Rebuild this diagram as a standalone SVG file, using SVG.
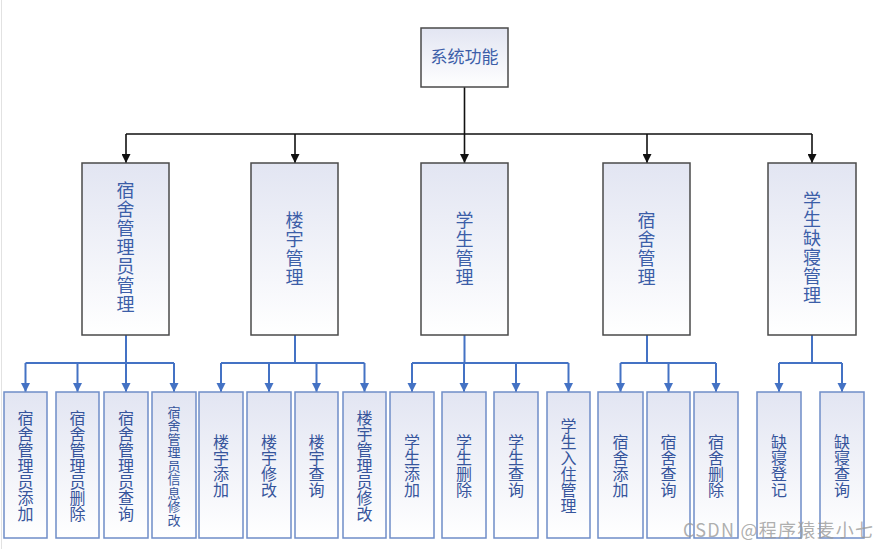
<svg xmlns="http://www.w3.org/2000/svg" width="890" height="549" viewBox="0 0 890 549">
<defs>
<linearGradient id="g" x1="0" y1="0" x2="0" y2="1">
<stop offset="0" stop-color="#e2e5f2"/>
<stop offset="1" stop-color="#ffffff"/>
</linearGradient>
<marker id="ab" viewBox="0 0 10 10" refX="10" refY="5" markerWidth="9" markerHeight="9" markerUnits="userSpaceOnUse" orient="auto">
<path d="M0,0 L10,5 L0,10 z" fill="#111"/>
</marker>
<marker id="au" viewBox="0 0 10 10" refX="10" refY="5" markerWidth="9" markerHeight="10" markerUnits="userSpaceOnUse" orient="auto">
<path d="M0,0 L10,5 L0,10 z" fill="#4472c4"/>
</marker>
<style>
.top{fill:url(#g);stroke:#4a4a4a;stroke-width:1.5}
.l2{fill:url(#g);stroke:#4a4a4a;stroke-width:1.5}
.l3{fill:url(#g);stroke:#6f8dc8;stroke-width:1.5}
.t{font-family:"Noto Sans CJK SC","Liberation Sans",sans-serif;fill:#3c5ea8;text-anchor:middle}
.v{writing-mode:vertical-rl;text-orientation:upright}
.t2{font-size:18px;letter-spacing:1px}
.t3{font-size:16px;fill:#36559c}
.t3s{font-size:13px;letter-spacing:0.5px;fill:#36559c}
.bk{stroke:#111;stroke-width:1.6;fill:none}
.bl{stroke:#4472c4;stroke-width:2;fill:none}
.wm{font-family:"Noto Sans CJK SC","Liberation Sans",sans-serif;font-size:18px;fill:#9a9a9a;fill-opacity:0.8}
</style>
</defs>
<rect width="890" height="549" fill="#fff"/>
<line x1="1.5" y1="0" x2="1.5" y2="549" stroke="#e2e2e2" stroke-width="1"/>

<g id="connectors">
<path class="bk" d="M464.5,87 V134 M126,134 H812"/>
<path class="bk" marker-end="url(#ab)" d="M126,134 V163"/>
<path class="bk" marker-end="url(#ab)" d="M295,134 V163"/>
<path class="bk" marker-end="url(#ab)" d="M464.5,134 V163"/>
<path class="bk" marker-end="url(#ab)" d="M647,134 V163"/>
<path class="bk" marker-end="url(#ab)" d="M812,134 V163"/>

<path class="bl" d="M126,335 V363 M25.5,363 H174"/>
<path class="bl" marker-end="url(#au)" d="M25.5,363 V392"/>
<path class="bl" marker-end="url(#au)" d="M77.5,363 V392"/>
<path class="bl" marker-end="url(#au)" d="M126,363 V392"/>
<path class="bl" marker-end="url(#au)" d="M174,363 V392"/>

<path class="bl" d="M295,335 V363 M221,363 H364.5"/>
<path class="bl" marker-end="url(#au)" d="M221,363 V392"/>
<path class="bl" marker-end="url(#au)" d="M269,363 V392"/>
<path class="bl" marker-end="url(#au)" d="M316.5,363 V392"/>
<path class="bl" marker-end="url(#au)" d="M364.5,363 V392"/>

<path class="bl" d="M464.5,335 V363 M412,363 H568.5"/>
<path class="bl" marker-end="url(#au)" d="M412,363 V392"/>
<path class="bl" marker-end="url(#au)" d="M464,363 V392"/>
<path class="bl" marker-end="url(#au)" d="M516,363 V392"/>
<path class="bl" marker-end="url(#au)" d="M568.5,363 V392"/>

<path class="bl" d="M647,335 V363 M620.5,363 H716"/>
<path class="bl" marker-end="url(#au)" d="M620.5,363 V392"/>
<path class="bl" marker-end="url(#au)" d="M668.5,363 V392"/>
<path class="bl" marker-end="url(#au)" d="M716,363 V392"/>

<path class="bl" d="M812,335 V363 M779,363 H842"/>
<path class="bl" marker-end="url(#au)" d="M779,363 V392"/>
<path class="bl" marker-end="url(#au)" d="M842,363 V392"/>
</g>

<g id="n-root">
<rect class="top" x="421" y="28" width="87" height="59"/>
<text class="t" x="464.5" y="63" style="font-size:17px">系统功能</text>
</g>

<g id="n-dorm-admin">
<rect class="l2" x="82" y="163" width="87" height="172"/>
<text class="t t2 v" x="125.5" y="248">宿舍管理员管理</text>
</g>
<g id="n-building">
<rect class="l2" x="251" y="163" width="87" height="172"/>
<text class="t t2 v" x="294.5" y="249">楼宇管理</text>
</g>
<g id="n-student">
<rect class="l2" x="421" y="163" width="87" height="172"/>
<text class="t t2 v" x="464.5" y="249">学生管理</text>
</g>
<g id="n-dorm">
<rect class="l2" x="603" y="163" width="87" height="172"/>
<text class="t t2 v" x="646.5" y="249">宿舍管理</text>
</g>
<g id="n-absence">
<rect class="l2" x="768" y="163" width="88" height="172"/>
<text class="t t2 v" x="812" y="248">学生缺寝管理</text>
</g>

<g id="n-a1">
<rect class="l3" x="4" y="392" width="43" height="146"/>
<text class="t t3 v" x="25.5" y="466">宿舍管理员添加</text>
</g>
<g id="n-a2">
<rect class="l3" x="56" y="392" width="43" height="146"/>
<text class="t t3 v" x="77.5" y="466">宿舍管理员删除</text>
</g>
<g id="n-a3">
<rect class="l3" x="104" y="392" width="44" height="146"/>
<text class="t t3 v" x="126" y="466">宿舍管理员查询</text>
</g>
<g id="n-a4">
<rect class="l3" x="152" y="392" width="44" height="146"/>
<text class="t t3s v" x="174" y="466">宿舍管理员信息修改</text>
</g>

<g id="n-b1">
<rect class="l3" x="199" y="392" width="44" height="146"/>
<text class="t t3 v" x="221" y="466">楼宇添加</text>
</g>
<g id="n-b2">
<rect class="l3" x="247" y="392" width="44" height="146"/>
<text class="t t3 v" x="269" y="466">楼宇修改</text>
</g>
<g id="n-b3">
<rect class="l3" x="295" y="392" width="43" height="146"/>
<text class="t t3 v" x="316.5" y="466">楼宇查询</text>
</g>
<g id="n-b4">
<rect class="l3" x="343" y="392" width="43" height="146"/>
<text class="t t3 v" x="364.5" y="466">楼宇管理员修改</text>
</g>

<g id="n-c1">
<rect class="l3" x="390" y="392" width="44" height="146"/>
<text class="t t3 v" x="412" y="466">学生添加</text>
</g>
<g id="n-c2">
<rect class="l3" x="442" y="392" width="44" height="146"/>
<text class="t t3 v" x="464" y="466">学生删除</text>
</g>
<g id="n-c3">
<rect class="l3" x="494" y="392" width="44" height="146"/>
<text class="t t3 v" x="516" y="466">学生查询</text>
</g>
<g id="n-c4">
<rect class="l3" x="547" y="392" width="43" height="146"/>
<text class="t t3 v" x="568.5" y="466">学生入住管理</text>
</g>

<g id="n-d1">
<rect class="l3" x="598" y="392" width="45" height="146"/>
<text class="t t3 v" x="620.5" y="466">宿舍添加</text>
</g>
<g id="n-d2">
<rect class="l3" x="647" y="392" width="43" height="146"/>
<text class="t t3 v" x="668.5" y="466">宿舍查询</text>
</g>
<g id="n-d3">
<rect class="l3" x="694" y="392" width="44" height="146"/>
<text class="t t3 v" x="716" y="466">宿舍删除</text>
</g>

<g id="n-e1">
<rect class="l3" x="757" y="392" width="44" height="146"/>
<text class="t t3 v" x="779" y="466">缺寝登记</text>
</g>
<g id="n-e2">
<rect class="l3" x="820" y="392" width="44" height="146"/>
<text class="t t3 v" x="842" y="466">缺寝查询</text>
</g>

<text class="wm" x="683" y="537" textLength="190" lengthAdjust="spacing">CSDN @程序猿麦小七</text>
</svg>
